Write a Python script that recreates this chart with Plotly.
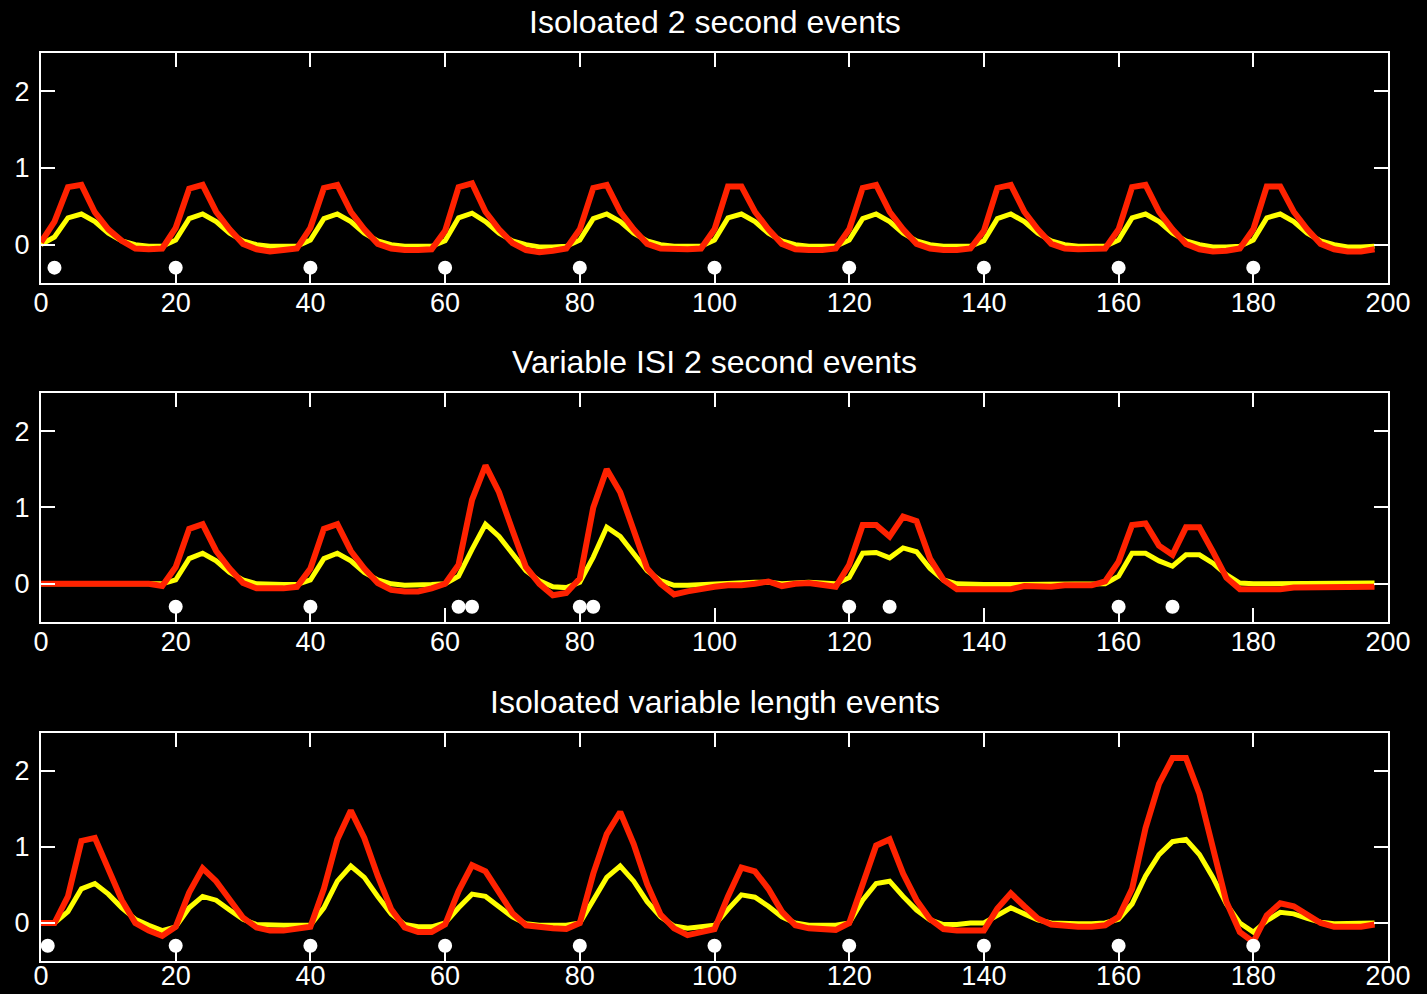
import plotly.graph_objects as go
from plotly.subplots import make_subplots

# sample times (s), 2-s sampling grid
TIME = list(range(0, 200, 2))

TITLES = ["Isoloated 2 second events", "Variable ISI 2 second events", "Isoloated variable length events"]

# ---- panel 1: isolated 2 second events ----
P1_EVENTS = [2, 20, 40, 60, 80, 100, 120, 140, 160, 180]
P1_RED = [
    0.03, 0.30, 0.75, 0.78, 0.42, 0.20, 0.05, -0.05, -0.06, -0.05,
    0.22, 0.73, 0.78, 0.43, 0.20, 0.01, -0.06, -0.09, -0.07, -0.05,
    0.22, 0.74, 0.78, 0.43, 0.20, 0.01, -0.05, -0.07, -0.07, -0.06,
    0.18, 0.75, 0.80, 0.43, 0.20, 0.02, -0.07, -0.10, -0.08, -0.05,
    0.20, 0.74, 0.78, 0.43, 0.20, 0.01, -0.05, -0.06, -0.06, -0.05,
    0.20, 0.76, 0.76, 0.43, 0.20, 0.01, -0.06, -0.07, -0.07, -0.05,
    0.20, 0.74, 0.78, 0.43, 0.20, 0.01, -0.05, -0.07, -0.07, -0.05,
    0.18, 0.74, 0.78, 0.43, 0.20, 0.01, -0.05, -0.06, -0.06, -0.05,
    0.20, 0.75, 0.78, 0.43, 0.20, 0.01, -0.06, -0.09, -0.08, -0.05,
    0.20, 0.76, 0.76, 0.43, 0.20, 0.01, -0.06, -0.09, -0.09, -0.06,
]
P1_YEL = [
    0.00, 0.10, 0.35, 0.40, 0.30, 0.15, 0.05, 0.00, -0.02, -0.02,
    0.06, 0.34, 0.40, 0.30, 0.15, 0.05, 0.00, -0.02, -0.02, -0.02,
    0.06, 0.34, 0.40, 0.30, 0.15, 0.05, 0.00, -0.02, -0.02, -0.02,
    0.05, 0.35, 0.41, 0.30, 0.15, 0.05, 0.00, -0.03, -0.03, -0.02,
    0.06, 0.34, 0.40, 0.30, 0.15, 0.05, 0.00, -0.02, -0.02, -0.02,
    0.06, 0.35, 0.40, 0.30, 0.15, 0.05, 0.00, -0.02, -0.02, -0.02,
    0.06, 0.34, 0.40, 0.30, 0.15, 0.05, 0.00, -0.02, -0.02, -0.02,
    0.05, 0.34, 0.40, 0.30, 0.15, 0.05, 0.00, -0.02, -0.02, -0.02,
    0.06, 0.35, 0.40, 0.30, 0.15, 0.05, 0.00, -0.03, -0.03, -0.02,
    0.06, 0.35, 0.40, 0.30, 0.15, 0.05, 0.00, -0.03, -0.03, -0.02,
]

# ---- panel 2: variable ISI 2 second events ----
P2_EVENTS = [20, 40, 62, 64, 80, 82, 120, 126, 160, 168]
P2_RED = [
    0.00, 0.00, 0.00, 0.00, 0.00, 0.00, 0.00, 0.00, 0.00, -0.03,
    0.22, 0.72, 0.78, 0.43, 0.20, 0.01, -0.06, -0.06, -0.06, -0.04,
    0.20, 0.72, 0.78, 0.43, 0.20, 0.01, -0.08, -0.10, -0.10, -0.06,
    0.00, 0.25, 1.10, 1.55, 1.20, 0.70, 0.22, 0.00, -0.15, -0.12,
    0.07, 1.00, 1.50, 1.20, 0.68, 0.20, 0.00, -0.14, -0.10, -0.06,
    -0.04, -0.02, -0.02, 0.00, 0.03, -0.03, 0.00, 0.01, -0.02, -0.04,
    0.25, 0.77, 0.77, 0.62, 0.88, 0.82, 0.33, 0.05, -0.07, -0.07,
    -0.07, -0.07, -0.07, -0.03, -0.03, -0.04, -0.02, -0.02, -0.02, 0.03,
    0.29, 0.77, 0.79, 0.50, 0.38, 0.74, 0.74, 0.42, 0.08, -0.07,
    -0.07, -0.07, -0.07, -0.05, -0.05, -0.04, -0.04, -0.04, -0.04, -0.04,
]
P2_YEL = [
    0.00, 0.00, 0.00, 0.00, 0.00, 0.00, 0.00, 0.00, 0.00, 0.00,
    0.05, 0.33, 0.40, 0.30, 0.15, 0.05, 0.00, -0.01, -0.01, -0.01,
    0.05, 0.33, 0.40, 0.30, 0.15, 0.05, 0.00, -0.02, -0.02, -0.01,
    0.00, 0.10, 0.45, 0.78, 0.62, 0.40, 0.17, 0.04, -0.04, -0.05,
    0.02, 0.35, 0.74, 0.62, 0.40, 0.17, 0.04, -0.02, -0.02, -0.01,
    0.00, 0.00, 0.01, 0.02, 0.02, 0.00, 0.01, 0.02, 0.01, 0.00,
    0.08, 0.40, 0.41, 0.34, 0.47, 0.42, 0.20, 0.05, 0.00, -0.01,
    -0.01, -0.01, -0.01, 0.00, 0.00, -0.01, 0.00, 0.00, 0.00, 0.00,
    0.10, 0.40, 0.40, 0.30, 0.23, 0.38, 0.38, 0.27, 0.12, 0.01,
    0.00, 0.00, 0.00, 0.00, 0.00, 0.00, 0.01, 0.01, 0.01, 0.01,
]

# ---- panel 3: isolated variable length events ----
P3_EVENTS = [1, 20, 40, 60, 80, 100, 120, 140, 160, 180]
P3_RED = [
    0.00, 0.00, 0.35, 1.08, 1.12, 0.70, 0.30, 0.00, -0.10, -0.17,
    -0.05, 0.40, 0.72, 0.55, 0.30, 0.07, -0.06, -0.10, -0.10, -0.07,
    -0.05, 0.45, 1.10, 1.48, 1.12, 0.62, 0.18, -0.06, -0.12, -0.12,
    -0.02, 0.42, 0.76, 0.68, 0.42, 0.13, -0.03, -0.06, -0.07, -0.08,
    0.00, 0.65, 1.17, 1.46, 1.04, 0.51, 0.11, -0.07, -0.16, -0.12,
    -0.08, 0.35, 0.73, 0.68, 0.45, 0.15, -0.03, -0.07, -0.08, -0.09,
    0.00, 0.53, 1.02, 1.10, 0.65, 0.30, 0.05, -0.08, -0.10, -0.10,
    -0.10, 0.19, 0.39, 0.22, 0.06, -0.02, -0.04, -0.05, -0.05, -0.03,
    0.08, 0.45, 1.25, 1.83, 2.17, 2.17, 1.70, 1.00, 0.28, -0.12,
    -0.25, 0.10, 0.26, 0.22, 0.10, 0.00, -0.05, -0.05, -0.05, -0.02,
]
P3_YEL = [
    0.00, 0.00, 0.15, 0.45, 0.52, 0.38, 0.20, 0.05, -0.03, -0.10,
    -0.05, 0.20, 0.35, 0.30, 0.17, 0.05, -0.02, -0.03, -0.03, -0.03,
    -0.03, 0.20, 0.55, 0.75, 0.60, 0.35, 0.12, -0.02, -0.05, -0.05,
    0.00, 0.20, 0.38, 0.35, 0.22, 0.08, -0.01, -0.03, -0.03, -0.03,
    0.00, 0.30, 0.60, 0.75, 0.55, 0.28, 0.08, -0.04, -0.07, -0.05,
    -0.03, 0.18, 0.37, 0.34, 0.22, 0.08, 0.00, -0.03, -0.03, -0.03,
    0.00, 0.30, 0.52, 0.55, 0.35, 0.17, 0.04, -0.02, -0.02, 0.00,
    0.00, 0.10, 0.20, 0.12, 0.04, 0.00, -0.01, -0.01, -0.01, 0.00,
    0.05, 0.25, 0.62, 0.90, 1.07, 1.10, 0.90, 0.60, 0.25, 0.00,
    -0.12, 0.03, 0.14, 0.12, 0.06, 0.01, -0.01, -0.01, 0.00, 0.00,
]

EVENT_LEVEL = -0.3
X_TICKS = [0, 20, 40, 60, 80, 100, 120, 140, 160, 180, 200]
Y_TICKS = [0, 1, 2]

RED = "#ff2200"
YELLOW = "#ffff00"
WHITE = "#ffffff"
FONT = "Liberation Sans"

panels = [
    (P1_RED, P1_YEL, P1_EVENTS),
    (P2_RED, P2_YEL, P2_EVENTS),
    (P3_RED, P3_YEL, P3_EVENTS),
]

fig = make_subplots(rows=3, cols=1)
domains = [[0.7467, 1.0], [0.3734, 0.6256], [0.0, 0.2511]]
x_label_standoff = [-5, -5, -10]

for i, (red, yel, ev) in enumerate(panels):
    r = i + 1
    fig.add_trace(go.Scatter(x=TIME, y=yel, mode="lines",
                             line=dict(color=YELLOW, width=5), showlegend=False), row=r, col=1)
    fig.add_trace(go.Scatter(x=TIME, y=red, mode="lines",
                             line=dict(color=RED, width=6), showlegend=False), row=r, col=1)
    fig.add_trace(go.Scatter(x=ev, y=[EVENT_LEVEL] * len(ev), mode="markers",
                             marker=dict(color=WHITE, size=14), showlegend=False,
                             cliponaxis=False), row=r, col=1)
    fig.update_xaxes(row=r, col=1, range=[0, 200], tickvals=X_TICKS,
                     ticks="inside", ticklen=14, tickwidth=2, tickcolor=WHITE,
                     showline=True, linecolor=WHITE, linewidth=2, mirror="ticks",
                     showgrid=False, zeroline=False, automargin=False,
                     ticklabelstandoff=x_label_standoff[i],
                     tickfont=dict(family=FONT, size=27, color=WHITE),
                     domain=[0, 1])
    fig.update_yaxes(row=r, col=1, range=[-0.5, 2.5], tickvals=Y_TICKS,
                     ticks="inside", ticklen=14, tickwidth=2, tickcolor=WHITE,
                     showline=True, linecolor=WHITE, linewidth=2, mirror="ticks",
                     showgrid=False, zeroline=False, automargin=False,
                     ticklabelstandoff=4,
                     tickfont=dict(family=FONT, size=27, color=WHITE),
                     domain=domains[i])
    fig.add_annotation(text=TITLES[i], xref="paper", yref="paper", x=0.5, y=domains[i][1],
                       xanchor="center", yanchor="middle", yshift=31, showarrow=False,
                       font=dict(family=FONT, size=32, color=WHITE))

fig.update_layout(width=1427, height=994, paper_bgcolor="black", plot_bgcolor="black",
                  margin=dict(l=41, r=39, t=53, b=33, autoexpand=False), showlegend=False)

fig.write_html("out.html", config={"displayModeBar": False},
               post_script="document.body.style.margin='0';document.body.style.background='#000';")
